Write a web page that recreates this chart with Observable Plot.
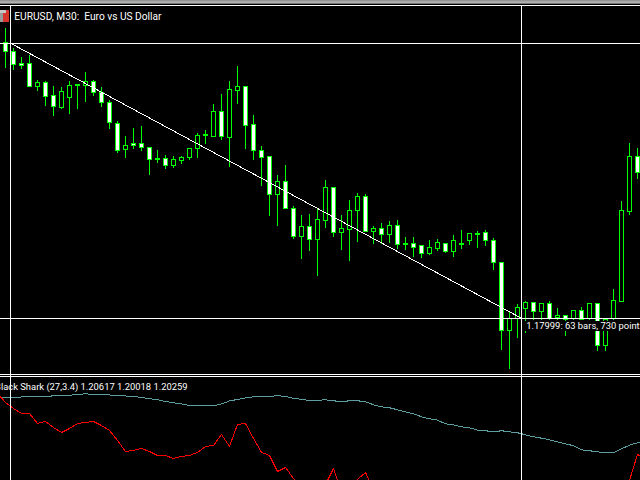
<!DOCTYPE html>
<html>
<head>
<meta charset="utf-8">
<script src="https://cdn.jsdelivr.net/npm/d3@7"></script>
<script src="https://cdn.jsdelivr.net/npm/@observablehq/plot@0.6"></script>
<style>
html,body{margin:0;padding:0;background:#000;width:640px;height:480px;overflow:hidden}
#stage{position:relative;width:640px;height:480px;background:#000;overflow:hidden}
#stage svg{position:absolute;left:0;display:block;background:#000}
#chrome{position:absolute;left:0;top:0;width:640px;height:4px;z-index:3;background:linear-gradient(#8a8a8a,#b8b8b8 60%,#555)}
#icon{position:absolute;left:0;top:10px;width:9px;height:12px;z-index:3;background:linear-gradient(90deg,#9a9a9a 0 3px,#d8342c 3px 9px)}
#icon:before{content:"";position:absolute;left:0;top:0;width:6px;height:3px;background:#c8c8c8}
</style>
</head>
<body>
<div id="stage">
<div id="chrome"></div>
<div id="icon"></div>
</div>
<script>
// EURUSD M30 bars, in points above basePrice (1 point = 0.00001)
const basePrice = 1.17;
const highs = [1769,1716,1692,1695,1631,1626,1615,1612,1628,1620,1650,1631,1612,1578,1522,1482,1503,1509,1453,1445,
1432,1429,1429,1450,1490,1498,1567,1594,1628,1668,1612,1538,1456,1426,1379,1405,1296,1273,1275,1288,
1365,1347,1273,1312,1331,1328,1243,1251,1257,1259,1214,1214,1190,1206,1209,1195,1219,1233,1225,1230,
1233,1211,1145,1015,1036,1044,1041,1036,1044,1026,1004,1020,1028,1036,1036,996,1076,1310,1464,1450];
const tops = [1729,1705,1673,1673,1623,1623,1588,1599,1615,1618,1626,1626,1596,1570,1514,1456,1461,1461,1450,1421,
1421,1418,1424,1448,1482,1485,1546,1546,1604,1612,1612,1511,1442,1426,1360,1360,1288,1241,1241,1259,
1344,1344,1235,1283,1320,1320,1235,1235,1243,1243,1195,1195,1190,1185,1198,1195,1203,1195,1222,1222,
1225,1203,1145,996,1026,1039,1039,1036,1036,1004,1004,1018,1018,1036,1036,994,1044,1283,1426,1426];
const bottoms = [1705,1671,1669,1612,1612,1586,1559,1557,1583,1615,1615,1596,1570,1517,1442,1445,1456,1450,1418,1418,
1403,1403,1416,1424,1448,1482,1480,1480,1477,1602,1509,1442,1424,1326,1326,1288,1214,1214,1206,1206,
1257,1225,1225,1233,1283,1227,1227,1219,1219,1193,1193,1185,1169,1169,1182,1174,1174,1193,1203,1219,
1203,1145,965,965,996,1023,1015,1015,996,999,994,996,994,996,925,925,996,1041,1280,1384];
const lows = [1663,1657,1660,1612,1602,1562,1535,1554,1541,1554,1572,1588,1559,1501,1437,1424,1448,1442,1379,1411,
1395,1397,1408,1418,1424,1461,1480,1472,1400,1567,1448,1418,1349,1270,1243,1288,1209,1156,1177,1110,
1238,1214,1180,1150,1201,1227,1195,1195,1198,1182,1180,1161,1158,1166,1177,1172,1161,1182,1193,1185,
1190,1126,914,864,946,959,994,994,994,994,951,994,994,994,911,911,994,1041,1273,1368];
// 1 = falling bar (white body), 0 = rising bar (black body)
const falling = [1,1,1,1,0,1,1,0,0,1,0,1,1,1,1,0,1,1,1,1,
1,0,0,0,0,1,0,1,0,0,1,1,1,1,0,1,1,0,1,0,
0,1,0,0,0,1,0,1,0,1,1,1,1,0,0,1,0,1,0,1,
1,1,1,0,0,0,1,0,1,0,1,0,1,0,1,0,0,0,0,1];

// Crosshair measuring tool: start and end, as bar index and price
const crossBars = [0.625, 64.5];
const crossPrices = [1.18729, 1.17999];
const titleText = "EURUSD, M30:  Euro vs US Dollar";
const measureText = "1.17999: 63 bars, 730 points";
const indicatorText = "Black Shark (27,3.4) 1.20617 1.20018 1.20259";

// Black Shark indicator, in points above indicatorBase; bar index starts at -1
const indicatorBase = 1.19;
const firstIndicatorBar = -1;
const blueLine = [2994,2997,3003,3018,3033,3024,3043,3049,3049,3070,3095,3116,3095,3085,3079,3064,3049,3033,3003,2963,
2935,2880,2841,2804,2758,2752,2752,2752,2804,2896,2942,2987,3024,3027,3033,3058,3033,2972,2948,2911,
2917,2932,2902,2871,2902,2902,2871,2779,2718,2688,2626,2565,2504,2412,2351,2308,2198,2167,2106,2076,
2002,1984,1953,1984,1953,1923,1861,1800,1757,1708,1647,1586,1525,1402,1372,1341,1311,1311,1433,1543,
1617,1656];
const redLine = [3125,2850,2666,2513,2513,2207,2268,2085,1932,2054,2207,2238,2268,2146,1993,1687,1350,1381,1442,1350,
1228,1228,1136,1197,1228,1320,1503,1534,1871,1503,2177,2207,1748,1320,1228,738,861,524,157,null,
null,341,830,96,4,494,708,157,null,null,null,null,null,null,null,null,null,null,null,null,
null,null,null,null,null,null,null,null,null,null,null,null,null,null,null,null,null,null,null,463,
1259,1136];

const bars = highs.map((h,i)=>({
  i,
  high: basePrice+h/1e5, low: basePrice+lows[i]/1e5,
  top: basePrice+tops[i]/1e5, bottom: basePrice+bottoms[i]/1e5,
  fill: falling[i] ? "#ffffff" : "#000000"
}));
const indicatorRows = blueLine.map((v,k)=>({
  i: k+firstIndicatorBar,
  blue: indicatorBase+v/1e5,
  red: redLine[k]==null ? null : indicatorBase+redLine[k]/1e5
}));

const xScale = {domain:[-0.625,79.375], range:[0,640]};
const crisp = {shapeRendering:"crispEdges"};
const priceTop = 1.188422, priceBottom = 1.178472;
const measureTop = 1.188289, measureBoxTop = 1.1799, measureBoxBottom = 1.17965;
const font = {fontFamily:"Roboto,'Liberation Sans',sans-serif", fontSize:10.2, fill:"#fff", textAnchor:"start", lineAnchor:"middle"};
const narrowFont = {...font, fontSize:9.4};

const mainH = 375;
const main = Plot.plot({
  width:640, height:mainH, margin:0, marginTop:0, marginRight:0, marginBottom:0, marginLeft:0,
  style:{background:"#000", overflow:"hidden"},
  x:{...xScale, axis:null},
  y:{domain:[priceBottom,priceTop], range:[mainH,0], axis:null},
  color:{type:"identity"},
  marks:[
    Plot.ruleX(bars,{x:"i",y1:"low",y2:"high",stroke:"#00ff00",strokeWidth:1,...crisp}),
    Plot.rect(bars,{x1:d=>d.i-0.25,x2:d=>d.i+0.25,y1:"bottom",y2:"top",fill:"fill",stroke:"#00ff00",strokeWidth:1,inset:0,...crisp}),
    Plot.line(crossBars.map((b,k)=>({b,p:crossPrices[k]})),{x:"b",y:"p",stroke:"#fff",strokeWidth:1,...crisp}),
    Plot.rect([{}],{x1:()=>65,x2:()=>80,y1:()=>measureBoxBottom,y2:()=>measureBoxTop,fill:"#000",...crisp}),
    Plot.ruleY(crossPrices,{stroke:"#fff",strokeWidth:1,...crisp}),
    Plot.ruleY([measureTop],{stroke:"#fff",strokeWidth:1,...crisp}),
    Plot.ruleX(crossBars,{y1:priceBottom,y2:measureTop,stroke:"#fff",strokeWidth:1,...crisp}),
    Plot.ruleY([1.17851],{stroke:"#fff",strokeWidth:1,...crisp}),
    Plot.text([measureText],{x:()=>65.1,y:()=>(measureBoxTop+measureBoxBottom)/2,text:d=>d,...narrowFont}),
    Plot.text([titleText],{x:()=>1.1,y:()=>priceTop-16*0.00002655,text:d=>d,...font})
  ]
});
main.style.top="0px";

const subH = 105;
const sub = Plot.plot({
  width:640, height:subH, margin:0, marginTop:0, marginRight:0, marginBottom:0, marginLeft:0,
  style:{background:"#000", overflow:"hidden"},
  x:{...xScale, axis:null},
  y:{domain:[1.19462,1.22675], range:[subH,0], axis:null},
  marks:[
    Plot.line(indicatorRows,{x:"i",y:"blue",stroke:"#5f9ea0",strokeWidth:1,...crisp}),
    Plot.line(indicatorRows,{x:"i",y:"red",stroke:"#ff0000",strokeWidth:1,...crisp}),
    Plot.ruleX(crossBars,{stroke:"#fff",strokeWidth:1,...crisp}),
    Plot.ruleY([1.22675-0.00030],{stroke:"#fff",strokeWidth:1,...crisp}),
    Plot.text([indicatorText],{x:()=>-1.3,y:()=>1.22675-11*0.000306,text:d=>d,...narrowFont})
  ]
});
sub.style.top=mainH+"px";

const stage=document.getElementById("stage");
stage.appendChild(main);
stage.appendChild(sub);
</script>
</body>
</html>
